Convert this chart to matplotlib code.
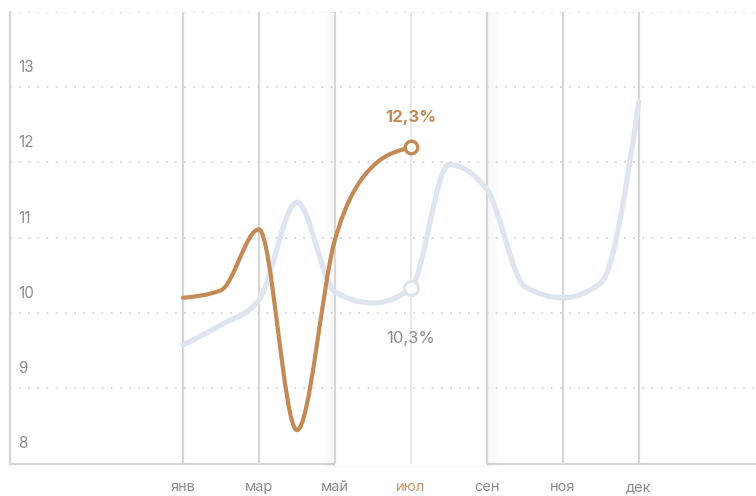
import numpy as np
import matplotlib
matplotlib.use("Agg")
import matplotlib.pyplot as plt
from matplotlib.path import Path
from matplotlib.patches import PathPatch, Rectangle
from matplotlib.transforms import blended_transform_factory, ScaledTranslation

# ── Data ──────────────────────────────────────────────────────────────────────
# points every half-step between the labelled months (index 0..12)
MONTH_LABELS = ["янв", "мар", "май", "июл", "сен", "ноя", "дек"]
LABEL_POS = [0, 2, 4, 6, 8, 10, 12]
HIGHLIGHT = 6

GRAY_X = list(range(13))
GRAY_Y = [9.57, 9.84, 10.17, 11.47, 10.28, 10.13, 10.33,
          11.97, 11.64, 10.35, 10.20, 10.40, 12.81]

ORANGE_X = list(range(7))
ORANGE_Y = [10.20, 10.30, 11.11, 8.44, 10.97, 11.95, 12.20]

Y_TICKS = [13, 12, 11, 10, 9, 8]
GRID_Y = [9, 10, 11, 12, 13, 14]

ORANGE_LABEL = "12,3%"
GRAY_LABEL = "10,3%"

ORANGE = "#c48a55"
GRAY_LINE = "#dfe5ee"
TEXT = "#8d8d8d"
GRID = "#cfcfcf"

plt.rcParams["font.family"] = ["Inter", "DejaVu Sans"]


def monotone_path(xs, ys):
    """Cubic bezier path with monotone-x tangents (like d3.curveMonotoneX)."""
    x = np.asarray(xs, float)
    y = np.asarray(ys, float)
    n = len(x)
    h = np.diff(x)
    s = np.diff(y) / h
    t = np.zeros(n)
    for i in range(1, n - 1):
        p = (s[i - 1] * h[i] + s[i] * h[i - 1]) / (h[i - 1] + h[i])
        t[i] = (np.sign(s[i - 1]) + np.sign(s[i])) * min(abs(s[i - 1]), abs(s[i]), 0.5 * abs(p))
    t[0] = (3 * s[0] - t[1]) / 2
    t[-1] = (3 * s[-1] - t[-2]) / 2
    verts = [(x[0], y[0])]
    codes = [Path.MOVETO]
    for i in range(n - 1):
        d = h[i] / 3
        verts += [(x[i] + d, y[i] + t[i] * d),
                  (x[i + 1] - d, y[i + 1] - t[i + 1] * d),
                  (x[i + 1], y[i + 1])]
        codes += [Path.CURVE4] * 3
    return Path(verts, codes)


fig = plt.figure(figsize=(7.56, 4.96), dpi=100)
ax = fig.add_axes([10 / 756, 32 / 496, 746 / 756, 452 / 496])
ax.set_xlim(-4.55, 15.08)
ax.set_ylim(7.99, 14.0)
for side in ["top", "right", "bottom"]:
    ax.spines[side].set_visible(False)
ax.spines["left"].set_color("#d6d6d6")
ax.spines["left"].set_linewidth(1.6)
ax.set_yticks([])
ax.set_xticks([])

# bottom axis line
ax.axhline(7.99, color="#d6d6d6", lw=1.6, zorder=0.5, clip_on=False)

# highlighted column with a soft shadow
for k in range(10):
    w = 0.30 - k * 0.03
    ax.add_patch(Rectangle((HIGHLIGHT - 2 - w, 7.95), 4 + 2 * w, 6.05,
                           facecolor="black", alpha=0.0035, lw=0, zorder=0.8, clip_on=False))
ax.add_patch(Rectangle((HIGHLIGHT - 2, 7.96), 4, 6.04, facecolor="white", lw=0,
                       zorder=0.9, clip_on=False))

# grid
for gy in GRID_Y:
    ax.axhline(gy, color=GRID, lw=1.2, ls=(0, (1, 4.5)), zorder=1.2)
for p in LABEL_POS:
    c = "#e9e9e9" if p == HIGHLIGHT else "#d6d6d6"
    ax.axvline(p, color=c, lw=1.5, zorder=1.1)

# y labels sit just above their gridlines
trans = blended_transform_factory(ax.transAxes, ax.transData)
for v in Y_TICKS:
    ax.text(0.011, v, str(v), transform=trans + ScaledTranslation(0, 0.12, fig.dpi_scale_trans),
            ha="left", va="bottom", fontsize=11, color=TEXT)

# x labels
xtrans = blended_transform_factory(ax.transData, ax.transAxes) + \
    ScaledTranslation(0, -0.23, fig.dpi_scale_trans)
for p, lab in zip(LABEL_POS, MONTH_LABELS):
    col = "#c9976b" if p == HIGHLIGHT else TEXT
    ax.text(p, 0, lab, transform=xtrans, ha="center", va="center", fontsize=10.5, color=col)

# lines
ax.add_patch(PathPatch(monotone_path(GRAY_X, GRAY_Y), fill=False, edgecolor=GRAY_LINE,
                       lw=3.8, capstyle="round", joinstyle="round", zorder=3))
ax.add_patch(PathPatch(monotone_path(ORANGE_X, ORANGE_Y), fill=False, edgecolor=ORANGE,
                       lw=3.0, capstyle="round", joinstyle="round", zorder=4))

gy6 = GRAY_Y[HIGHLIGHT]
oy6 = ORANGE_Y[HIGHLIGHT]
ax.plot([HIGHLIGHT], [gy6], "o", ms=10, mfc="white", mec=GRAY_LINE, mew=2.2, zorder=5)
ax.plot([HIGHLIGHT], [oy6], "o", ms=9, mfc="white", mec=ORANGE, mew=2.4, zorder=6)

ax.annotate(ORANGE_LABEL, (HIGHLIGHT, oy6), xytext=(0, 16), textcoords="offset points",
            ha="center", va="bottom", fontsize=12, fontweight="bold", color=ORANGE)
ax.annotate(GRAY_LABEL, (HIGHLIGHT, gy6), xytext=(0, -31), textcoords="offset points",
            ha="center", va="top", fontsize=12, color=TEXT)

fig.savefig("out.png", dpi=100)
